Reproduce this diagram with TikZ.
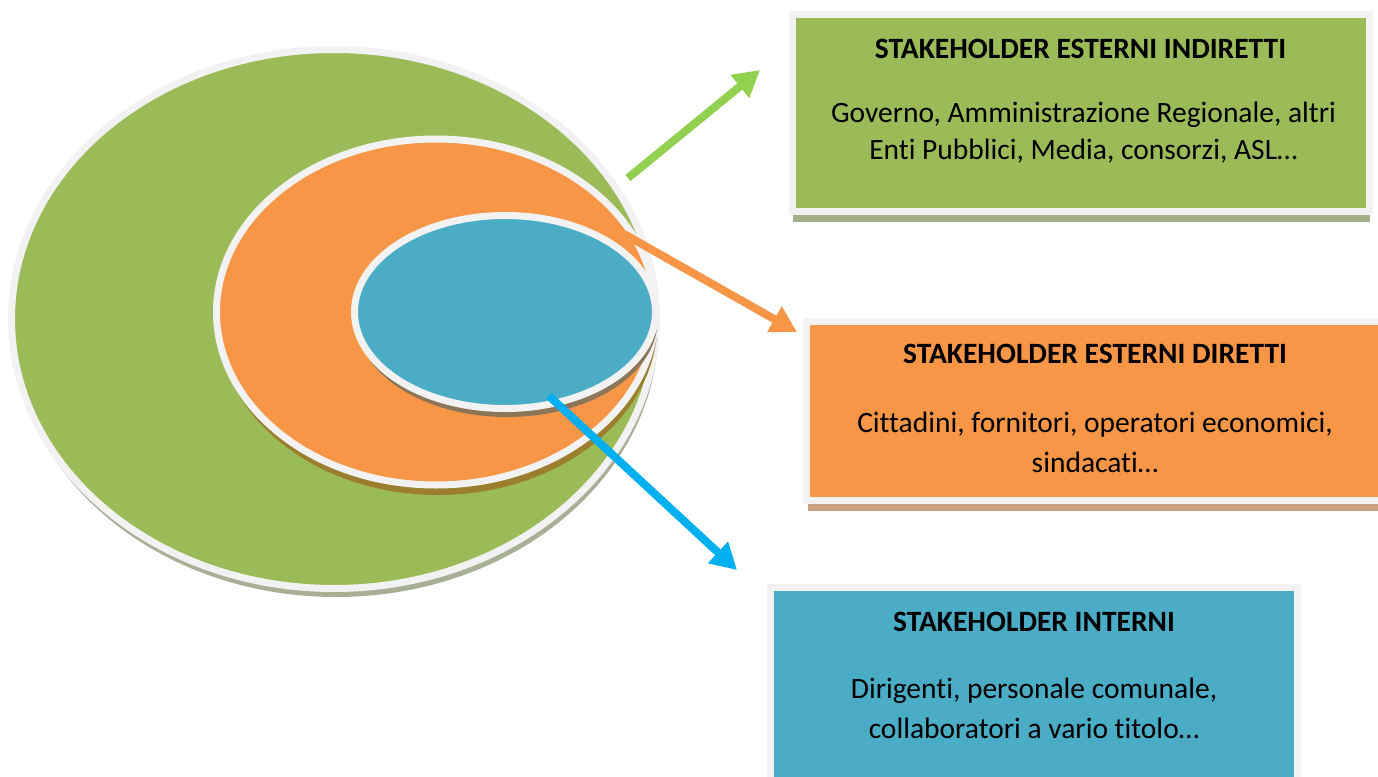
\documentclass[tikz,border=0pt]{standalone}
\usepackage{fontspec}
\setmainfont{Carlito}[Ligatures=NoCommon]
\usetikzlibrary{shapes.geometric,shadows,arrows.meta}

\definecolor{ringgreen}{HTML}{9BBB59}
\definecolor{ringorange}{HTML}{F79646}
\definecolor{ringblue}{HTML}{4BACC6}
\definecolor{rim}{HTML}{F2F2F2}
\definecolor{arrowgreen}{HTML}{92D050}
\definecolor{arrowblue}{HTML}{00B0F0}
\definecolor{shadegreen}{HTML}{A7B097}
\definecolor{shadeorange}{HTML}{9B7F2E}
\definecolor{shadeblue}{HTML}{8B7658}
\definecolor{shadegreenbox}{HTML}{A4AE8B}
\definecolor{shadeorangebox}{HTML}{CBA07F}

\tikzstyle{ring} = [ellipse, draw=rim, line width=7pt, inner sep=0pt]
\tikzstyle{panel} = [rectangle, draw=rim, line width=7pt, inner sep=0pt]
\tikzstyle{boxtitle} = [font=\bfseries\fontsize{29.5}{34}\selectfont]
\tikzstyle{boxtext} = [align=center, font=\fontsize{29.5}{40}\selectfont]
\tikzstyle{link} = [line width=8pt, -{Triangle[length=26pt,width=28pt]}]

\begin{document}
\begin{tikzpicture}[x=1pt, y=-1pt]
        \useasboundingbox (0,0) rectangle (1378,776);

        % the three rings
        \node[ring, fill=ringgreen, minimum width=645pt, minimum height=539pt,
              drop shadow={shadow xshift=2pt, shadow yshift=-8.5pt, fill=shadegreen, opacity=1}]
              (outer) at (334,319) {};
        \node[ring, fill=ringorange, minimum width=439pt, minimum height=346pt,
              drop shadow={shadow xshift=2pt, shadow yshift=-10pt, fill=shadeorange, opacity=1}]
              (middle) at (436,312) {};
        \node[ring, fill=ringblue, minimum width=301pt, minimum height=193pt,
              drop shadow={shadow xshift=2pt, shadow yshift=-8.5pt, fill=shadeblue, opacity=1}]
              (inner) at (505,312) {};

        % the three boxes
        \node[panel, fill=ringgreen, minimum width=577pt, minimum height=196pt,
              drop shadow={shadow xshift=1pt, shadow yshift=-10.5pt, fill=shadegreenbox, opacity=1}]
              (indiretti) at (1080.5,113) {};
        \node[boxtitle] at ([yshift=-37pt]indiretti.north) {STAKEHOLDER ESTERNI INDIRETTI};
        \node[boxtext, font=\fontsize{29.5}{37}\selectfont] at ([yshift=-121pt, xshift=3pt]indiretti.north)
              {Governo, Amministrazione Regionale, altri\\Enti Pubblici, Media, consorzi, ASL…};

        \node[panel, fill=ringorange, minimum width=577pt, minimum height=179pt,
              drop shadow={shadow xshift=1pt, shadow yshift=-10.5pt, fill=shadeorangebox, opacity=1}]
              (diretti) at (1095,411) {};
        \node[boxtitle] at ([yshift=-36pt]diretti.north) {STAKEHOLDER ESTERNI DIRETTI};
        \node[boxtext] at ([yshift=-124pt]diretti.north)
              {Cittadini, fornitori, operatori economici,\\sindacati…};

        \node[panel, fill=ringblue, minimum width=527pt, minimum height=196pt]
              (interni) at (1034,685) {};
        \node[boxtitle] at ([yshift=-38pt]interni.north) {STAKEHOLDER INTERNI};
        \node[boxtext] at ([yshift=-124.5pt]interni.north)
              {Dirigenti, personale comunale,\\collaboratori a vario titolo…};

        % arrows from the rings to the boxes
        \coordinate (gfrom) at (628,178);
        \coordinate (gto) at (760,70);
        \coordinate (ofrom) at (624,234);
        \coordinate (oto) at (797,332);
        \coordinate (bfrom) at (549,396);
        \coordinate (bto) at (737,570);
        \draw[link, arrowgreen] (gfrom) -- (gto);
        \draw[link, ringorange] (ofrom) -- (oto);
        \draw[link, arrowblue] (bfrom) -- (bto);
\end{tikzpicture}
\end{document}
